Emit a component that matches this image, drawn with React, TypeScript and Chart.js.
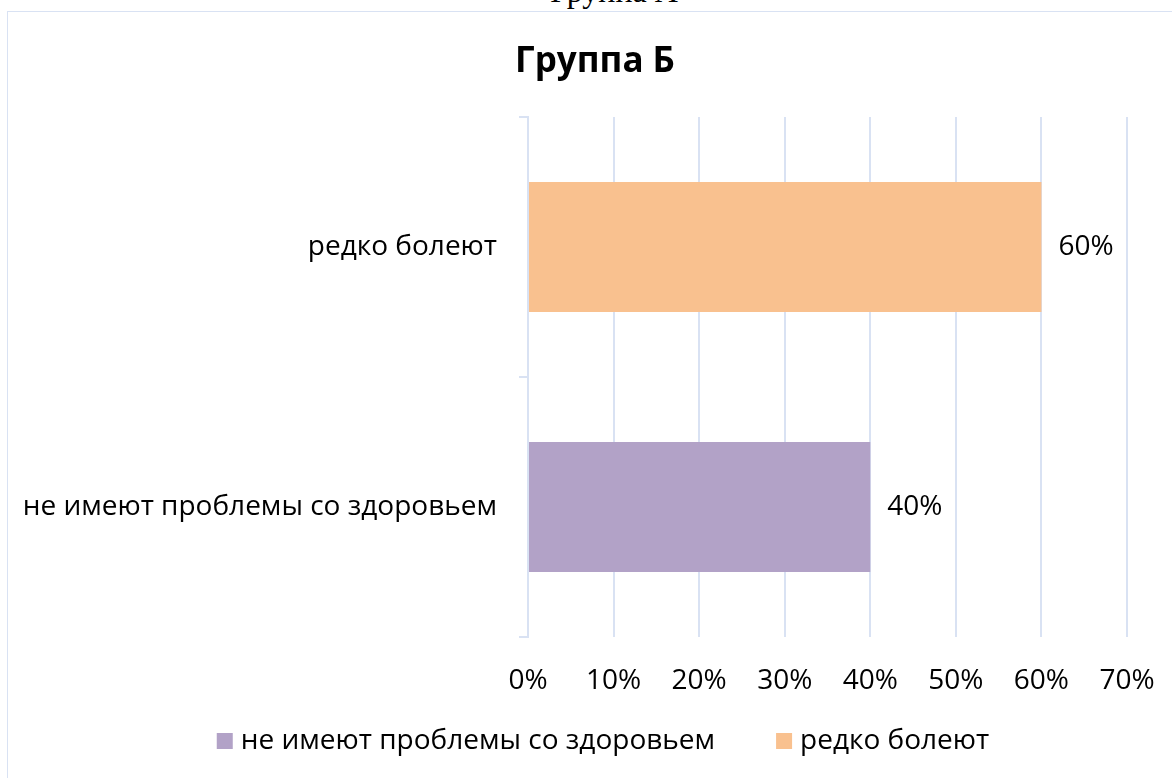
import React, { useEffect, useRef } from "react";
import { Chart, registerables } from "chart.js";

Chart.register(...registerables);

// ---- data ----
const categories = ["не имеют проблемы со здоровьем", "редко болеют"];
const values = [40, 60];
const barColors = ["#B2A2C7", "#F9C18F"];
const xTickValues = [0, 10, 20, 30, 40, 50, 60, 70];
const chartTitle = "Группа Б";
const pageHeading = "Группа А";

// ---- styles ----
const FONT = "'Open Sans', 'Noto Sans', sans-serif";
const GRID = "#D9E2F3";
const TEXT_SIZE = 28;

const titlePlugin = {
  id: "customTitle",
  afterDraw(chart: any) {
    const ctx = chart.ctx;
    ctx.save();
    ctx.font = `bold 35px ${FONT}`;
    ctx.fillStyle = "#000";
    ctx.textAlign = "center";
    ctx.textBaseline = "middle";
    ctx.fillText(chartTitle, chart.width / 2, 50);
    ctx.restore();
  },
};

const dataLabelPlugin = {
  id: "barValueLabels",
  afterDatasetsDraw(chart: any) {
    const ctx = chart.ctx;
    const meta = chart.getDatasetMeta(0);
    ctx.save();
    ctx.font = `${TEXT_SIZE}px ${FONT}`;
    ctx.fillStyle = "#000";
    ctx.textAlign = "left";
    ctx.textBaseline = "middle";
    meta.data.forEach((bar: any, i: number) => {
      ctx.fillText(values[i] + "%", bar.x + 17, bar.y);
    });
    ctx.restore();
  },
};

const legendPlugin = {
  id: "customLegend",
  afterDraw(chart: any) {
    const ctx = chart.ctx;
    ctx.save();
    ctx.font = `${TEXT_SIZE}px ${FONT}`;
    const box = 16;
    const gapText = 8;
    const gapItem = 61;
    const widths = categories.map((c) => ctx.measureText(c).width);
    const total =
      widths.reduce((a, w) => a + box + gapText + w, 0) +
      gapItem * (categories.length - 1);
    let x = chart.width / 2 - total / 2 + 8;
    const y = 729;
    categories.forEach((c, i) => {
      ctx.fillStyle = barColors[i];
      ctx.fillRect(x, y - box / 2, box, box);
      ctx.fillStyle = "#000";
      ctx.textAlign = "left";
      ctx.textBaseline = "middle";
      ctx.fillText(c, x + box + gapText, y);
      x += box + gapText + widths[i] + gapItem;
    });
    ctx.restore();
  },
};

export default function App() {
  const canvasRef = useRef<HTMLCanvasElement | null>(null);

  useEffect(() => {
    if (!canvasRef.current) return;
    const chart = new Chart(canvasRef.current, {
      type: "bar",
      data: {
        labels: categories,
        datasets: [
          {
            label: chartTitle,
            data: values,
            backgroundColor: barColors,
            borderWidth: 0,
            barPercentage: 0.5,
            categoryPercentage: 1.0,
          },
        ],
      },
      options: {
        responsive: false,
        animation: false,
        indexAxis: "y",
        layout: { padding: { left: 0, right: 55, top: 105, bottom: 71 } },
        plugins: {
          legend: { display: false },
          title: { display: false },
          tooltip: { enabled: false },
        },
        scales: {
          x: {
            type: "linear",
            min: 0,
            max: 70,
            afterBuildTicks: (scale: any) => {
              scale.ticks = xTickValues.map((v) => ({ value: v }));
            },
            afterFit: (scale: any) => {
              scale.height = 70;
            },
            ticks: {
              callback: (v: any) => v + "%",
              font: { family: FONT, size: TEXT_SIZE },
              color: "#000",
              padding: 27,
              maxRotation: 0,
              autoSkip: false,
            },
            grid: { color: GRID, lineWidth: 2, drawTicks: false },
            border: { display: false },
          },
          y: {
            reverse: true,
            afterFit: (scale: any) => {
              scale.width = 520;
            },
            ticks: {
              font: { family: FONT, size: TEXT_SIZE },
              color: "#000",
              padding: 22,
            },
            grid: {
              drawOnChartArea: false,
              offset: true,
              tickLength: 9,
              color: GRID,
              lineWidth: 2,
            },
            border: { display: true, color: GRID, width: 2 },
          },
        },
      },
      plugins: [titlePlugin, dataLabelPlugin, legendPlugin],
    } as any);
    return () => chart.destroy();
  }, []);

  return (
    <div
      style={{
        position: "fixed",
        left: 0,
        top: 0,
        width: 1172,
        height: 778,
        overflow: "hidden",
        background: "#fff",
      }}
    >
      <div
        style={{
          position: "absolute",
          left: 7,
          top: 11,
          width: 1200,
          height: 800,
          border: `1px solid ${GRID}`,
          boxSizing: "border-box",
        }}
      />
      <div
        style={{
          position: "absolute",
          left: 614 - 150,
          top: -25,
          width: 300,
          textAlign: "center",
          fontFamily: "'Liberation Serif', 'Times New Roman', serif",
          fontSize: 32,
          lineHeight: "32px",
          color: "#000",
          whiteSpace: "nowrap",
        }}
      >
        {pageHeading}
      </div>
      <canvas
        ref={canvasRef}
        width={1174}
        height={766}
        style={{ position: "absolute", left: 8, top: 12, width: 1174, height: 766 }}
      />
    </div>
  );
}
